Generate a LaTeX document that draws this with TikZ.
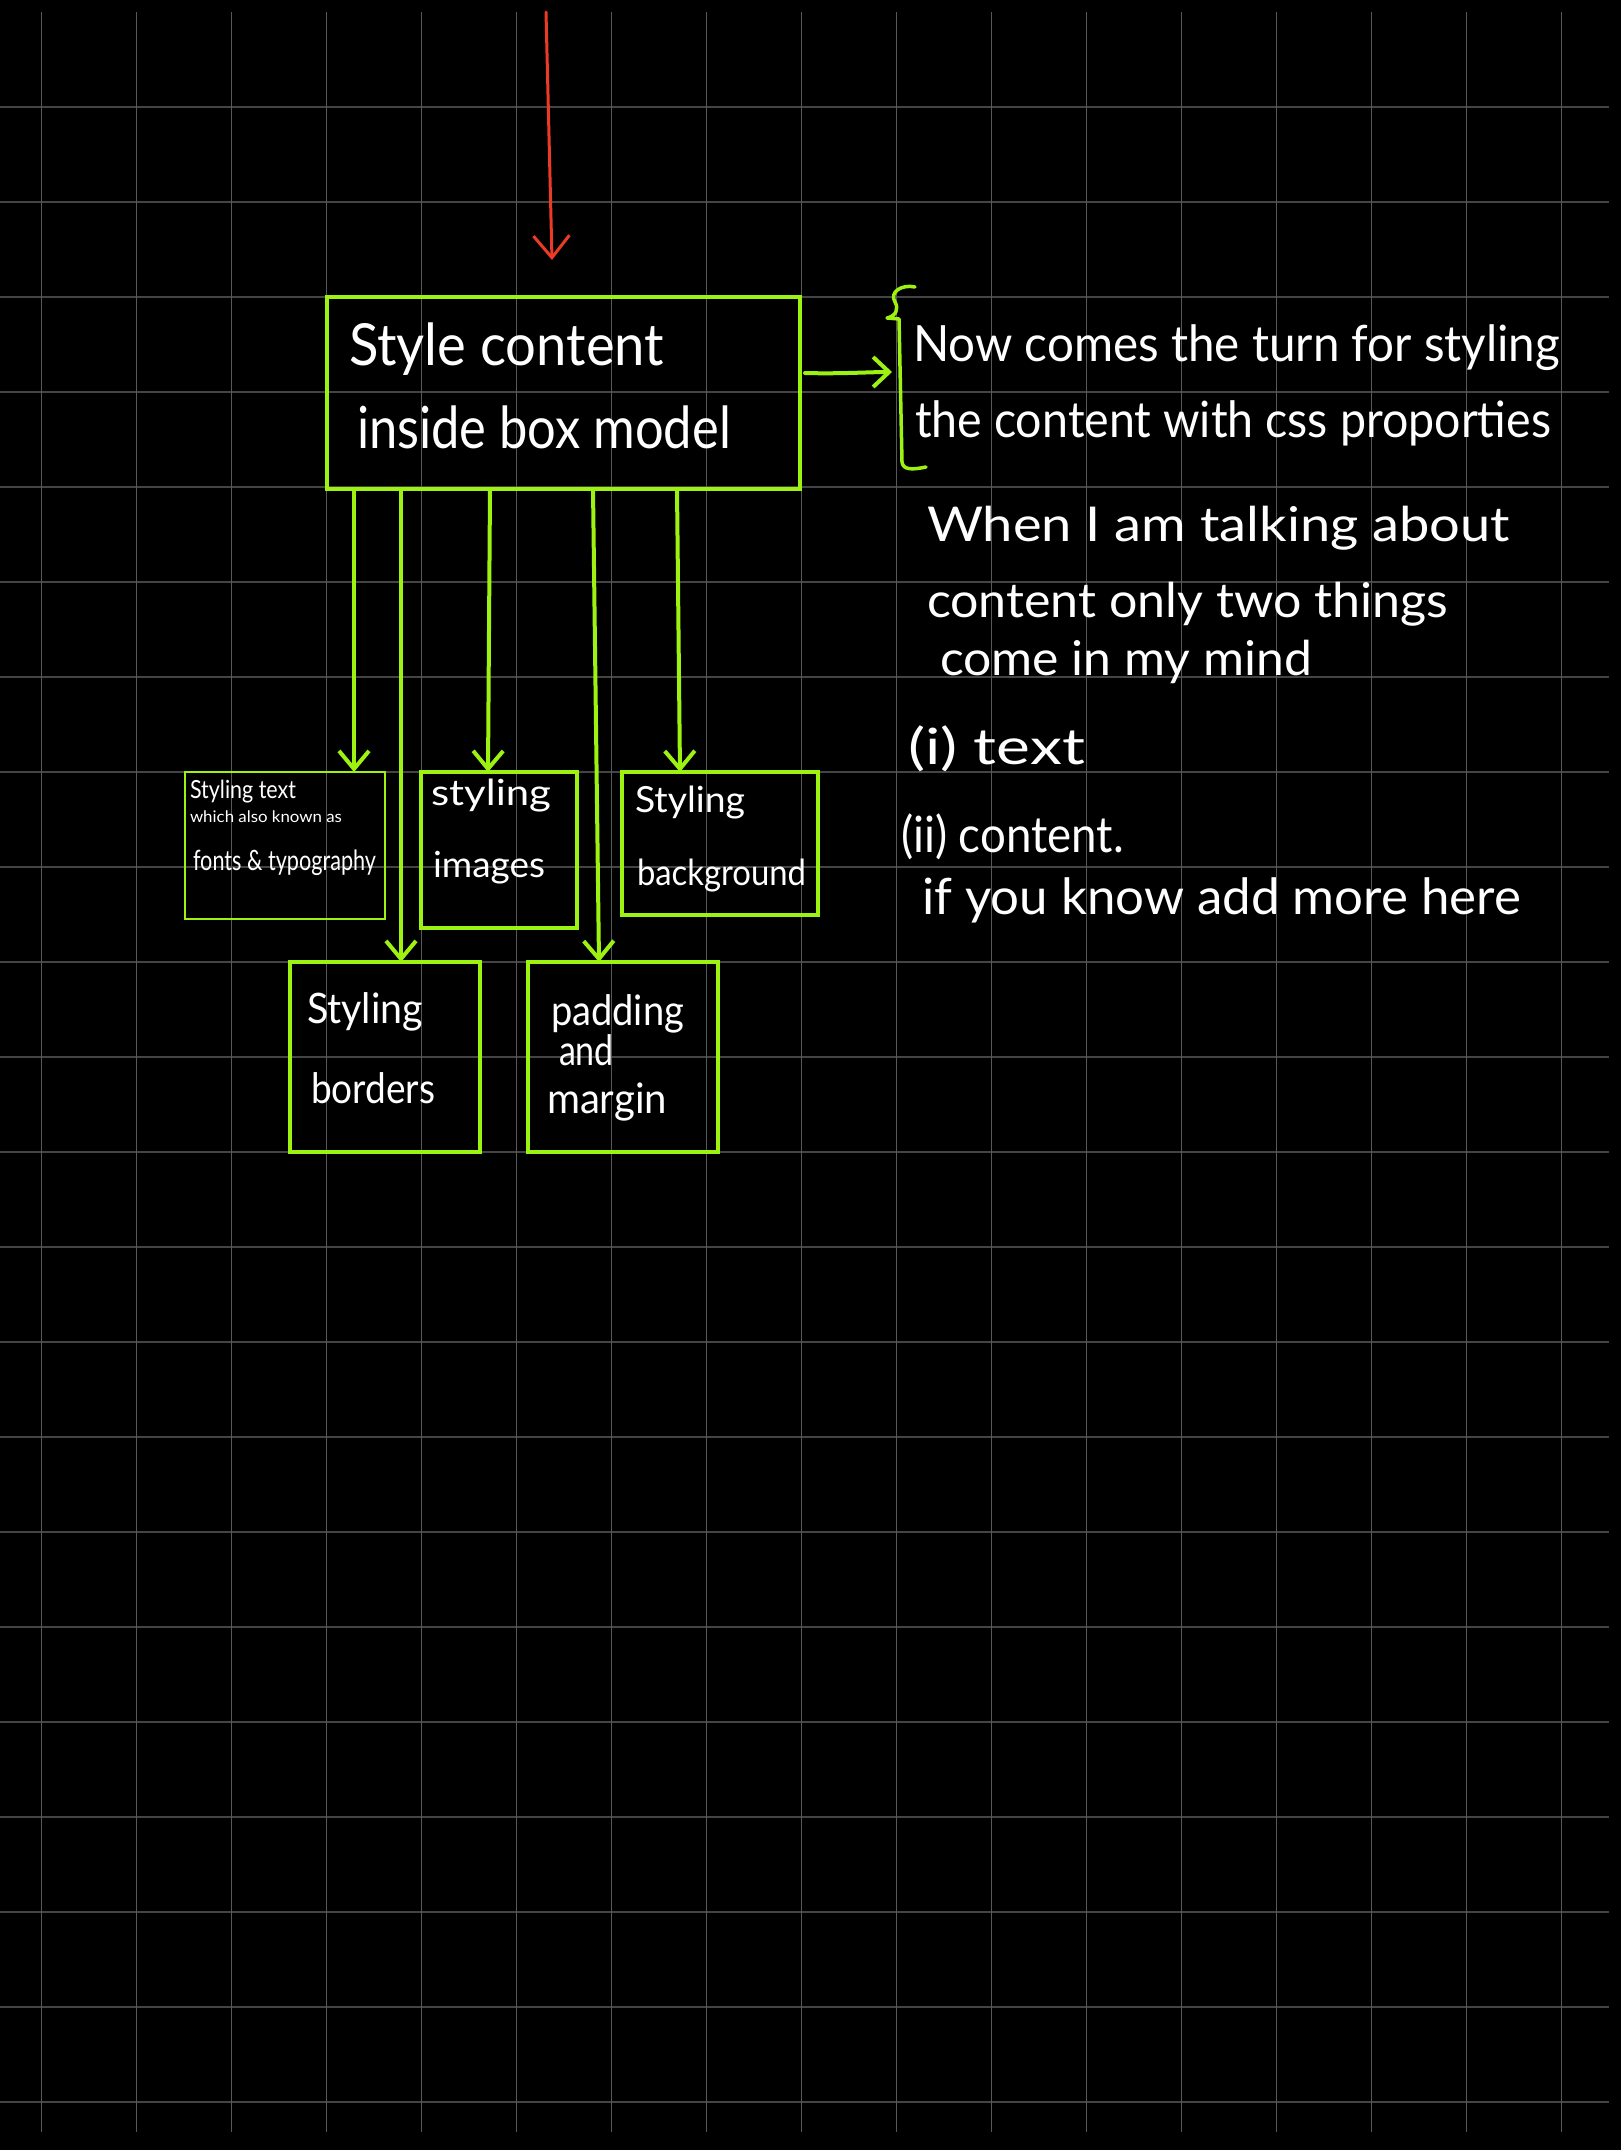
\documentclass[tikz,border=0pt]{standalone}
\usepackage{fontspec}
\setmainfont{Lato}
\usetikzlibrary{arrows.meta,calc}
\definecolor{lime}{RGB}{158,242,18}
\definecolor{redarrow}{RGB}{235,58,38}
\definecolor{gridh}{RGB}{68,68,68}
\definecolor{gridv}{RGB}{88,88,88}
\newcommand\hwtext[3]{\resizebox{#1pt}{\height}{\fontsize{#2}{#2}\selectfont #3}}
\begin{document}
\begin{tikzpicture}[x=1pt,y=-1pt,
  box/.style={draw=lime, line width=4pt, inner sep=0pt, outer sep=0pt},
  thinbox/.style={box, line width=2.2pt},
  hw/.style={anchor=base west, inner sep=0pt, outer sep=0pt, text=white},
  conn/.style={draw=lime, line width=4pt, line cap=round, -{Straight Barb[length=18pt,width=30pt]}},
]
\fill[black] (0,0) rectangle (1621,2150);
\useasboundingbox (0,0) rectangle (1621,2150);
% grid
\foreach \k in {0,...,21} \draw[gridh, line width=2.2pt] (0,107+95*\k) -- (1609,107+95*\k);
\foreach \k in {0,...,16} \draw[gridv, line width=1.2pt] (41.3+95*\k,12) -- (41.3+95*\k,2132);

% boxes
\node[box, minimum width=473pt, minimum height=192pt] (main) at (563.5,393) {};
\node[thinbox, minimum width=200pt, minimum height=147pt] (boxA) at (285,845.5) {};
\node[box, minimum width=156pt, minimum height=156pt] (boxB) at (499,850) {};
\node[box, minimum width=196pt, minimum height=143pt] (boxC) at (720,843.5) {};
\node[box, minimum width=190pt, minimum height=190pt] (boxD) at (385,1057) {};
\node[box, minimum width=190pt, minimum height=190pt] (boxE) at (623,1057) {};

% red arrow
\coordinate (redtop) at (546,12);
\coordinate (redtip) at (552,260);
\draw[redarrow, line width=3pt, line cap=round, -{Straight Barb[length=22pt,width=36pt]}] (redtop) -- (redtip);

% connectors
\draw[conn] (main.south -| 354,0) -- (boxA.north -| 354,0);
\draw[conn] (main.south -| 401,0) -- (boxD.north -| 401,0);
\draw[conn] (main.south -| 490,0) -- (boxB.north -| 488,0);
\draw[conn] (main.south -| 593,0) -- (boxE.north -| 599,0);
\draw[conn] (main.south -| 677,0) -- (boxC.north -| 680,0);

% brace and arrow into it
\coordinate (bracein) at (892,372);
\draw[conn, -{Straight Barb[length=16pt,width=30pt]}] ($(main.east |- 0,373)+(5,0)$) .. controls (840,374) and (870,372) .. (bracein);
\draw[lime, line width=3.5pt, line cap=round, line join=round]
  (915,287) .. controls (902,284) and (889,292) .. (895,302)
  .. controls (899,309) and (896,316) .. (887,318) -- (899,319) -- (902,462)
  .. controls (903,470) and (912,470) .. (926,467);

% main text
\node[hw] (m1) at (349,365) {\hwtext{315}{58}{Style content}};
\node[hw] (m2) at (357,448) {\hwtext{374}{58}{inside box model}};

% box texts
\node[hw] (a1) at (190,798) {\hwtext{106}{25}{Styling text}};
\node[hw] (a2) at (190,822) {\hwtext{152}{16}{which also known as}};
\node[hw] (a3) at (193,870) {\hwtext{183}{28}{fonts \& typography}};
\node[hw] (b1) at (431,805) {\hwtext{120}{36}{styling}};
\node[hw] (b2) at (433,877) {\hwtext{112}{36}{images}};
\node[hw] (c1) at (635,812) {\hwtext{110}{36}{Styling}};
\node[hw] (c2) at (637,885) {\hwtext{169}{36}{background}};
\node[hw] (d1) at (307,1023) {\hwtext{116}{42}{Styling}};
\node[hw] (d2) at (311,1103) {\hwtext{124}{42}{borders}};
\node[hw] (e1) at (551,1025) {\hwtext{133}{42}{padding}};
\node[hw] (e2) at (559,1065) {\hwtext{55}{42}{and}};
\node[hw] (e3) at (547,1113) {\hwtext{120}{42}{margin}};

% right notes
\node[hw] (r1) at (913,361) {\hwtext{647}{50}{Now comes the turn for styling}};
\node[hw] (r2) at (915,437) {\hwtext{636}{50}{the content with css proporties}};
\node[hw] (r3) at (927,541) {\hwtext{583}{48}{When I am talking about}};
\node[hw] (r4) at (927,617) {\hwtext{521}{48}{content only two things}};
\node[hw] (r5) at (940,675) {\hwtext{372}{48}{come in my mind}};
\node[hw] (r6) at (908,764) {\hwtext{177}{50}{(i) text}};
\node[hw] (r7) at (901,852) {\hwtext{223}{50}{(ii) content.}};
\node[hw] (r8) at (922,914) {\hwtext{599}{50}{if you know add more here}};
\end{tikzpicture}
\end{document}
